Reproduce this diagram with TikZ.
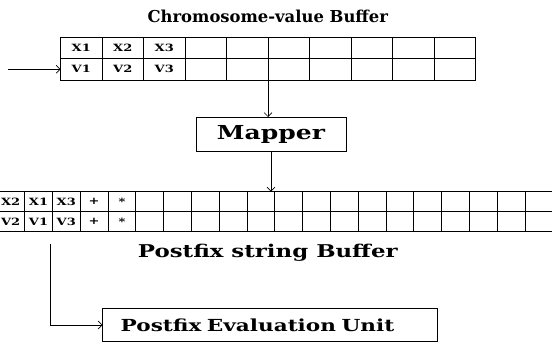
\documentclass[tikz,border=0pt]{standalone}
\usepackage{fontspec}
\setmainfont{DejaVu Serif}
\newfontfamily\widefont{DejaVu Serif}[FakeStretch=1.3]
\usetikzlibrary{positioning,arrows.meta}
\tikzstyle{arrow} = [->,>={Straight Barb[length=4pt,width=8pt]},line width=0.7pt]
\tikzstyle{cvcell} = [draw,line width=0.8pt,minimum width=41.5pt,minimum height=21.5pt,inner sep=0pt,outer sep=0pt,font=\widefont\fontsize{10}{10}\bfseries]
\tikzstyle{pfcell} = [draw,line width=0.8pt,minimum width=27.8pt,minimum height=20pt,inner sep=0pt,outer sep=0pt,font=\widefont\fontsize{10}{10}\bfseries]
\tikzstyle{unit} = [draw,line width=0.8pt,inner sep=0pt,outer sep=0pt]

\begin{document}
\begin{tikzpicture}[x=1pt,y=-1pt]
    \useasboundingbox (0,0) rectangle (552,345);

    % chromosome-value buffer
    \foreach \i/\xt/\vt in {1/X1/V1,2/X2/V2,3/X3/V3} {
      \node (cvx\i) [cvcell] at ({60.5+41.5*(\i-0.5)},47.75) {\xt};
      \node (cvv\i) [cvcell] at ({60.5+41.5*(\i-0.5)},69.25) {\vt};
    }
    \foreach \i in {4,...,10} {
      \node (cvx\i) [cvcell] at ({60.5+41.5*(\i-0.5)},47.75) {};
      \node (cvv\i) [cvcell] at ({60.5+41.5*(\i-0.5)},69.25) {};
    }
    \node (cv-title) [font=\fontsize{16.4}{18}\bfseries] at (267.8,16) {Chromosome-value Buffer};

    \coordinate (cv-in) at (8,69.25);
    \draw [arrow] (cv-in) -- (cvv1.west);

    \node (mapper) [unit,minimum width=150pt,minimum height=34pt,font=\widefont\fontsize{19.25}{20}\bfseries] at (271,134) {Mapper};
    \draw [arrow] (cvv5.south east) -- (cvv5.south east |- mapper.north);

    % postfix string buffer
    \foreach \i/\xt/\vt in {1/X2/V2,2/X1/V1,3/X3/V3,4/+/+,5/*/*} {
      \node (pfx\i) [pfcell] at ({-3.2+27.8*(\i-0.5)},201.7) {\xt};
      \node (pfv\i) [pfcell] at ({-3.2+27.8*(\i-0.5)},221.7) {\vt};
    }
    \foreach \i in {6,...,20} {
      \node (pfx\i) [pfcell] at ({-3.2+27.8*(\i-0.5)},201.7) {};
      \node (pfv\i) [pfcell] at ({-3.2+27.8*(\i-0.5)},221.7) {};
    }
    \draw [arrow] (mapper.south) -- (mapper.south |- pfx10.north);
    \node (pf-title) [font=\widefont\fontsize{17.6}{20}\bfseries] at (267.8,253) {Postfix string Buffer};

    \coordinate (pf-tap) at (50.7,244);
    \node (eval) [unit,minimum width=334.6pt,minimum height=33.4pt,inner xsep=18pt,text width=298.6pt,align=left,font=\widefont\fontsize{16.6}{18}\bfseries] at (270,325) {Postfix Evaluation Unit};
    \draw [arrow] (pf-tap) |- (eval.west);

  \end{tikzpicture}
\end{document}
